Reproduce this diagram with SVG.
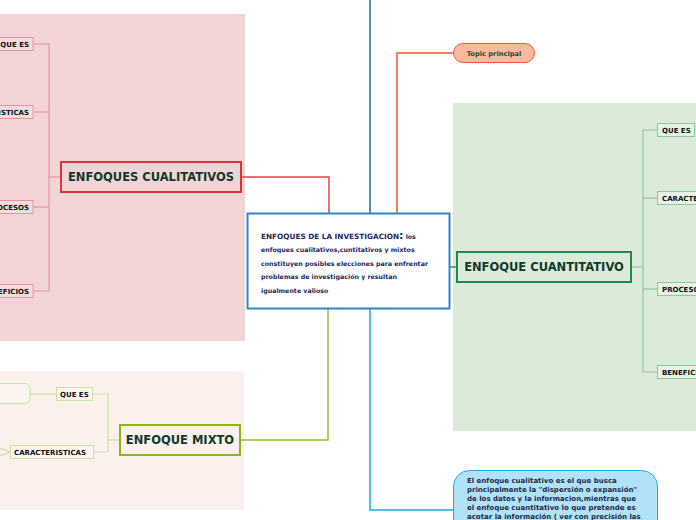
<svg xmlns="http://www.w3.org/2000/svg" width="696" height="520" viewBox="0 0 696 520">
<style>
.f{font-family:"DejaVu Sans","Liberation Sans",sans-serif;font-weight:bold}
.main{font-size:11.5px;fill:#0f3a2a;text-anchor:middle}
.lbl{font-size:7px;fill:#111}
.lr rect{fill:#f5dcdc;stroke:#f0909a;stroke-width:1}
.lg rect{fill:#e6f2e3;stroke:#8cc89c;stroke-width:1}
.ly rect{fill:#fcf5ef;stroke:#cce0a0;stroke-width:1}
.ctr{font-size:6.3px;fill:#1a2a5a}
.note{font-size:7px;fill:#1a2a4a}
</style>
<rect x="0" y="14" width="245" height="327" fill="#f1d5d6"/>
<rect x="453" y="103" width="243" height="328" fill="#dcebd9"/>
<rect x="0" y="371" width="244" height="139" fill="#fbf0eb"/>
<g id="connectors" fill="none">
<polyline points="370,0 370,213" stroke="#1f5fc0" stroke-width="1.5"/>
<polyline points="397,213 397,53 453,53" stroke="#f0582a" stroke-width="1.5"/>
<polyline points="242,177 329,177 329,213" stroke="#e8404a" stroke-width="1.5"/>
<polyline points="450,267 456,267" stroke="#2a9a60" stroke-width="1.5"/>
<polyline points="240,440 328,440 328,308" stroke="#99c020" stroke-width="1.5"/>
<polyline points="370,308 370,510 453,510" stroke="#20a8e8" stroke-width="1.5"/>
<g stroke="#f0909a" stroke-width="1.2">
<polyline points="60,177 49,177"/>
<polyline points="33,44 49,44 49,291 33,291"/>
<polyline points="33,112 49,112"/>
<polyline points="33,207 49,207"/>
</g>
<g stroke="#8cc89c" stroke-width="1.2">
<polyline points="632,267 643,267"/>
<polyline points="657,130 643,130 643,372 657,372"/>
<polyline points="643,198 657,198"/>
<polyline points="643,289 657,289"/>
<polyline points="694,130 696,130"/>
</g>
<g stroke="#cce0a0" stroke-width="1.2">
<polyline points="119,440 108,440"/>
<polyline points="92,394 108,394 108,452 93,452"/>
<polyline points="56,394 30,394"/>
<polyline points="0,448 10,452 0,456"/>
</g>
</g>
<g id="center">
<rect x="247.5" y="213.5" width="202" height="95" fill="#fff" stroke="#2a88c8" stroke-width="2"/>
<text class="f ctr" x="261" y="239"><tspan style="font-size:7.3px">ENFOQUES DE LA INVESTIGACION</tspan><tspan style="font-size:11px">:</tspan> los</text>
<text class="f ctr" x="261" y="252">enfoques cualitativos,cuntitativos y mixtos</text>
<text class="f ctr" x="261" y="266">constituyen posibles elecciones para enfrentar</text>
<text class="f ctr" x="261" y="279">problemas de investigación y resultan</text>
<text class="f ctr" x="261" y="293">igualmente valioso</text>
</g>
<g id="topic">
<rect x="453.5" y="43.5" width="81" height="19" rx="9.5" fill="#fbb9a0" stroke="#f0582a" stroke-width="1"/>
<text class="f" x="494" y="55.5" font-size="6.7" fill="#1f4a2f" text-anchor="middle">Topic principal</text>
</g>
<g id="cualitativos">
<rect x="61" y="162" width="180" height="30" fill="#f1d5d6" stroke="#e0303a" stroke-width="2"/>
<text class="f main" x="151" y="181">ENFOQUES CUALITATIVOS</text>
</g>
<g id="cual-quees" class="lr"><rect x="-20" y="37.5" width="53" height="13"/><text class="f lbl" x="29" y="46.5" text-anchor="end">QUE ES</text></g>
<g id="cual-caract" class="lr"><rect x="-60" y="105.5" width="93" height="13"/><text class="f lbl" x="29" y="114.5" text-anchor="end">CARACTERISTICAS</text></g>
<g id="cual-proc" class="lr"><rect x="-40" y="200.5" width="73" height="13"/><text class="f lbl" x="29" y="209.5" text-anchor="end">PROCESOS</text></g>
<g id="cual-benef" class="lr"><rect x="-40" y="284.5" width="73" height="13"/><text class="f lbl" x="29" y="293.5" text-anchor="end">BENEFICIOS</text></g>
<g id="cuantitativo">
<rect x="457" y="252" width="174" height="30" fill="#dcebd9" stroke="#1f8a50" stroke-width="2"/>
<text class="f main" x="544" y="271">ENFOQUE CUANTITATIVO</text>
</g>
<g id="cuan-quees" class="lg"><rect x="657.5" y="123.5" width="37" height="13"/><text class="f lbl" x="662" y="132.5">QUE ES</text></g>
<g id="cuan-caract" class="lg"><rect x="657.5" y="191.5" width="80" height="13"/><text class="f lbl" x="662" y="200.5">CARACTERISTICAS</text></g>
<g id="cuan-proc" class="lg"><rect x="657.5" y="282.5" width="60" height="13"/><text class="f lbl" x="662" y="291.5">PROCESOS</text></g>
<g id="cuan-benef" class="lg"><rect x="657.5" y="365.5" width="60" height="13"/><text class="f lbl" x="662" y="374.5">BENEFICIOS</text></g>
<g id="mixto">
<rect x="120" y="425" width="120" height="30" fill="#fbf0eb" stroke="#88b818" stroke-width="2"/>
<text class="f main" x="180" y="444">ENFOQUE MIXTO</text>
</g>
<g id="mix-quees" class="ly"><rect x="56.5" y="387.5" width="36" height="13"/><text class="f lbl" x="60" y="396.5">QUE ES</text></g>
<g id="mix-caract" class="ly"><rect x="10.5" y="445.5" width="83" height="13"/><text class="f lbl" x="14" y="454.5">CARACTERISTICAS</text></g>
<g id="mix-sub" class="ly"><rect x="-20" y="383.5" width="50" height="20" rx="5"/></g>
<g id="note">
<rect x="453.5" y="470.5" width="204" height="80" rx="16" fill="#b2e2f8" stroke="#20a8e8" stroke-width="1"/>
<text class="f note" x="467" y="483">El enfoque cualitativo es el que busca</text>
<text class="f note" x="467" y="492">principalmente la "dispersión o expansión"</text>
<text class="f note" x="467" y="501">de los datos y la informacion,mientras que</text>
<text class="f note" x="467" y="510">el enfoque cuantitativo lo que pretende es</text>
<text class="f note" x="467" y="519">acotar la información ( ver con precisión las</text>
</g>
</svg>
